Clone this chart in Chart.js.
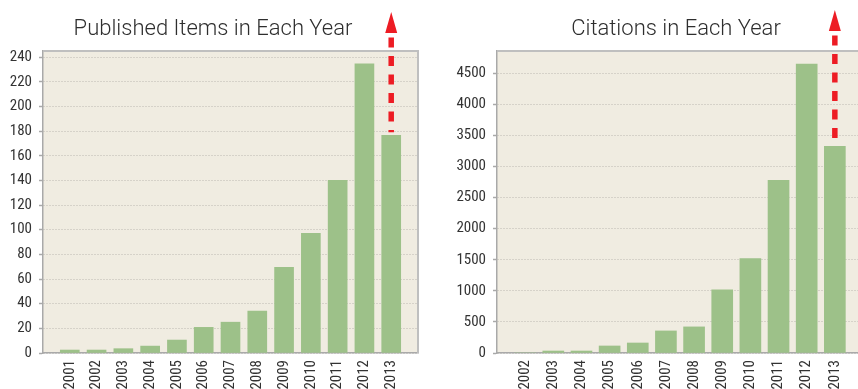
<!DOCTYPE html>
<html>
<head>
<meta charset="utf-8">
<script src="https://cdn.jsdelivr.net/npm/chart.js@4.4.1/dist/chart.umd.min.js"></script>
<style>
    body { margin: 0; background: #fff; }
    #wrap { position: relative; width: 858px; height: 389px; overflow: hidden; }
    canvas { position: absolute; top: 0; }
    #chart-items { left: 0; }
    #chart-citations { left: 430px; }
</style>
</head>
<body>
<div id="wrap">
    <canvas id="chart-items" width="430" height="389"></canvas>
    <canvas id="chart-citations" width="436" height="389"></canvas>
</div>
<script>
/*
-------------------------------------------------------------------------
Data
-------------------------------------------------------------------------
*/
const yearsItems = [2001, 2002, 2003, 2004, 2005, 2006, 2007, 2008, 2009, 2010, 2011, 2012, 2013];
const valuesItems = [2.4, 2.4, 3.5, 5.6, 10.5, 20.8, 25, 34, 69.5, 97, 140, 234.5, 176.5];
const yTicksItems = [0, 20, 40, 60, 80, 100, 120, 140, 160, 180, 200, 220, 240];
const projectionItems = 179; // bottom of the red arrow on 2013

const yearsCitations = [2002, 2003, 2004, 2005, 2006, 2007, 2008, 2009, 2010, 2011, 2012, 2013];
const valuesCitations = [0, 32, 32, 113, 161, 355, 420, 1017, 1518, 2777, 4650, 3326];
const yTicksCitations = [0, 500, 1000, 1500, 2000, 2500, 3000, 3500, 4000, 4500];
const projectionCitations = 3440;

const titleItems = "Published Items in Each Year";
const titleCitations = "Citations in Each Year";

const tickFont = {
    family: "'Roboto Condensed', 'DejaVu Sans Condensed', sans-serif",
    size: 15,
};

/*
-------------------------------------------------------------------------
Plugins
-------------------------------------------------------------------------
*/
// beige plot background + grey frame on top / right
const plotFrame = {
    id: "plotFrame",
    beforeDraw(chart) {
        const { ctx, chartArea: a } = chart;
        ctx.save();
        ctx.fillStyle = "#f0ece1";
        ctx.fillRect(a.left, a.top, a.right - a.left, a.bottom - a.top);
        ctx.restore();
    },
    beforeDatasetsDraw(chart) {
        const { ctx, chartArea: a } = chart;
        ctx.save();
        ctx.strokeStyle = "#bfbfbf";
        ctx.lineWidth = 2;
        ctx.beginPath();
        ctx.moveTo(a.left, a.top);
        ctx.lineTo(a.right, a.top);
        ctx.lineTo(a.right, a.bottom);
        ctx.stroke();
        ctx.restore();
    },
};

// dashed red arrow above the 2013 bar
const projectionArrow = {
    id: "projectionArrow",
    afterDatasetsDraw(chart, args, opts) {
        const { ctx, chartArea, scales } = chart;
        const px = scales.x.getPixelForValue(opts.year);
        const tip = chartArea.top - opts.rise;
        const base = tip + 21;
        const end = scales.y.getPixelForValue(opts.from);
        ctx.save();
        ctx.strokeStyle = "#ed1c24";
        ctx.fillStyle = "#ed1c24";
        ctx.lineWidth = 5.5;
        ctx.setLineDash([10, 8.5]);
        ctx.beginPath();
        ctx.moveTo(px, base + 4.5);
        ctx.lineTo(px, end);
        ctx.stroke();
        ctx.setLineDash([]);
        ctx.beginPath();
        ctx.moveTo(px, tip);
        ctx.lineTo(px - 6, base);
        ctx.lineTo(px + 6, base);
        ctx.closePath();
        ctx.fill();
        ctx.restore();
    },
};

// heading text, placed by hand like in the original figure
const chartHeading = {
    id: "chartHeading",
    afterDraw(chart, args, opts) {
        const { ctx } = chart;
        ctx.save();
        ctx.font = "300 22px Roboto, 'Open Sans', sans-serif";
        ctx.fillStyle = "#2e2e2e";
        ctx.textAlign = "center";
        ctx.textBaseline = "alphabetic";
        ctx.fillText(opts.text, opts.x, 35);
        ctx.restore();
    },
};

/*
-------------------------------------------------------------------------
Config builder
-------------------------------------------------------------------------
*/
function buildConfig(years, values, yTicks, s) {
    return {
        type: "bar",
        data: {
            datasets: [
                {
                    data: years.map((yr, i) => ({ x: yr, y: values[i] })),
                    backgroundColor: "#9dc189",
                    borderWidth: 0,
                    barThickness: s.barThickness,
                },
            ],
        },
        options: {
            responsive: false,
            animation: false,
            events: [],
            layout: {
                padding: { top: 51, right: s.padRight, left: 0, bottom: 0 },
            },
            plugins: {
                legend: { display: false },
                tooltip: { enabled: false },
                projectionArrow: { year: 2013, from: s.arrowFrom, rise: s.rise },
                chartHeading: { text: s.title, x: s.titleX },
            },
            scales: {
                x: {
                    type: "linear",
                    offset: false,
                    min: s.xMin,
                    max: s.xMax,
                    afterFit: (scale) => {
                        scale.height = 36;
                        scale.paddingLeft = 0;
                        scale.paddingRight = 0;
                    },
                    grid: { display: false, drawTicks: false, offset: false },
                    border: { display: true, color: "#a9a9a9", width: 1.5 },
                    ticks: {
                        stepSize: 1,
                        autoSkip: false,
                        minRotation: 90,
                        maxRotation: 90,
                        padding: 7,
                        color: "#333",
                        font: tickFont,
                        callback: (v) => (years.includes(v) ? String(v) : ""),
                    },
                },
                y: {
                    min: 0,
                    max: s.yMax,
                    afterFit: (scale) => {
                        scale.width = s.yWidth;
                        scale.paddingTop = 0;
                        scale.paddingBottom = 0;
                    },
                    afterBuildTicks: (scale) => {
                        scale.ticks = yTicks.map((v) => ({ value: v }));
                    },
                    border: { display: true, color: "#a9a9a9", width: 1.5, dash: [1, 2] },
                    grid: {
                        color: "#bcb9b1",
                        lineWidth: 1,
                        tickLength: 4,
                        tickColor: "#a9a9a9",
                        tickBorderDash: [],
                        tickWidth: 1.5,
                    },
                    ticks: {
                        padding: 7,
                        color: "#333",
                        font: tickFont,
                        callback: (v) => String(v),
                    },
                },
            },
        },
        plugins: [plotFrame, projectionArrow, chartHeading],
    };
}

/*
-------------------------------------------------------------------------
Published Items in Each Year
-------------------------------------------------------------------------
*/
new Chart(document.getElementById("chart-items"), buildConfig(yearsItems, valuesItems, yTicksItems, {
    title: titleItems,
    titleX: 213,
    xMin: 2000,
    xMax: 2014,
    yMax: 245,
    yWidth: 43,
    padRight: 12,
    barThickness: 19,
    arrowFrom: projectionItems,
    rise: 39,
}));

/*
-------------------------------------------------------------------------
Citations in Each Year
-------------------------------------------------------------------------
*/
new Chart(document.getElementById("chart-citations"), buildConfig(yearsCitations, valuesCitations, yTicksCitations, {
    title: titleCitations,
    titleX: 246,
    xMin: 2001,
    xMax: 2014,
    yMax: 4860,
    yWidth: 67,
    padRight: 3,
    barThickness: 21,
    arrowFrom: projectionCitations,
    rise: 41,
}));
</script>
</body>
</html>
